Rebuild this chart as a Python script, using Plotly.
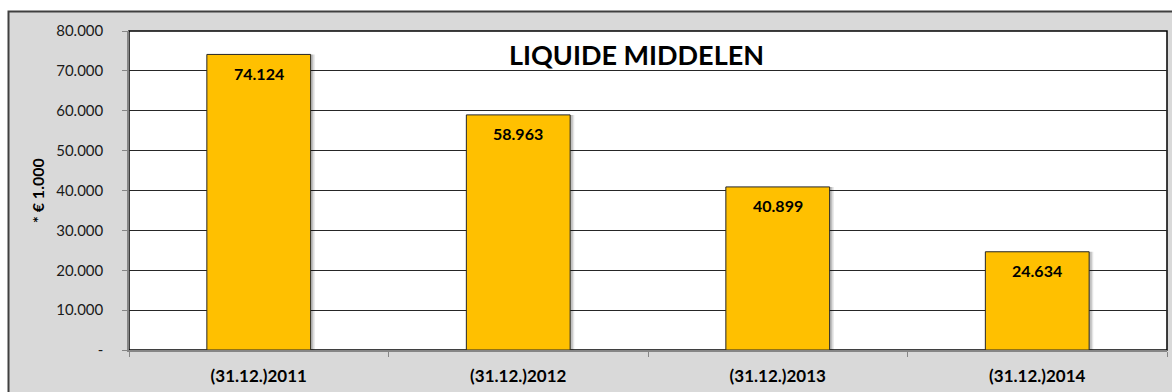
import plotly.graph_objects as go

# Balance of liquid assets at year end (x EUR 1.000)
categories = ["(31.12.)2011", "(31.12.)2012", "(31.12.)2013", "(31.12.)2014"]
values = [74124, 58963, 40899, 24634]
y_ticks = [0, 10000, 20000, 30000, 40000, 50000, 60000, 70000, 80000]


def fmt(v):
    return "-" if v == 0 else f"{v:,}".replace(",", ".")


y_ticktext = [fmt(v) for v in y_ticks]

FONT = "Lato"
W, H = 1172, 392
L, R, T, B = 129, 5, 31, 42
pw, ph = W - L - R, H - T - B


def px_x(p):
    return (p - L) / pw


def px_y(p):
    return (H - B - p) / ph


fig = go.Figure()

# soft drop shadow behind each bar
for k, alpha in [(0.016, 0.10), (0.010, 0.16)]:
    fig.add_trace(go.Bar(
        x=categories, y=values, width=0.40, offset=-0.20 + k,
        marker=dict(color=f"rgba(0,0,0,{alpha})", line=dict(width=0)),
        hoverinfo="skip", showlegend=False,
    ))

fig.add_trace(go.Bar(
    x=categories, y=values, width=0.40, offset=-0.20,
    marker=dict(color="#FFC000", line=dict(color="#262626", width=1)),
    showlegend=False,
))

annotations = []
for c, v in zip(categories, values):
    annotations.append(dict(
        x=c, y=v, xref="x", yref="y", text=f"<b>{fmt(v)}</b>",
        showarrow=False, yanchor="middle", yshift=-19,
        font=dict(family=FONT, size=16, color="#000000"),
    ))

annotations.append(dict(
    x=px_x(636), y=px_y(54), xref="paper", yref="paper",
    text="<b>LIQUIDE MIDDELEN</b>", showarrow=False,
    xanchor="center", yanchor="middle",
    font=dict(family=FONT, size=27, color="#000000"),
))
annotations.append(dict(
    x=px_x(38), y=px_y(191), xref="paper", yref="paper",
    text="<b>* € 1.000</b>", showarrow=False, textangle=-90,
    xanchor="center", yanchor="middle",
    font=dict(family=FONT, size=16, color="#000000"),
))

shapes = [
    # grey chart area with dark frame
    dict(type="rect", xref="paper", yref="paper", layer="below",
         x0=px_x(8.5), x1=px_x(1185), y0=px_y(405), y1=px_y(11.5),
         fillcolor="#D9D9D9", line=dict(color="#404040", width=2)),
    # white plot area
    dict(type="rect", xref="paper", yref="paper", layer="below",
         x0=0, x1=1, y0=0, y1=1,
         fillcolor="#FFFFFF", line=dict(color="#000000", width=1.5)),
]

fig.update_layout(
    width=W, height=H,
    margin=dict(l=L, r=R, t=T, b=B, pad=0),
    paper_bgcolor="#FFFFFF", plot_bgcolor="#FFFFFF",
    barmode="overlay", bargap=0.6,
    annotations=annotations, shapes=shapes,
    xaxis=dict(
        type="category", showgrid=False, showline=True,
        linecolor="#868686", linewidth=1.5,
        ticks="outside", tickson="boundaries", ticklen=5, tickcolor="#868686",
        tickfont=dict(family=FONT, size=17, color="#000000", weight="bold"),
        ticklabelstandoff=10, zeroline=False,
    ),
    yaxis=dict(
        range=[0, 80000], tickvals=y_ticks, ticktext=y_ticktext,
        showgrid=True, gridcolor="#262626", gridwidth=1,
        showline=True, linecolor="#868686", linewidth=1.5,
        ticks="outside", ticklen=5, tickcolor="#868686",
        tickfont=dict(family=FONT, size=15, color="#1A1A1A"),
        ticklabelstandoff=16, zeroline=False,
    ),
)

fig.write_html("out.html")
